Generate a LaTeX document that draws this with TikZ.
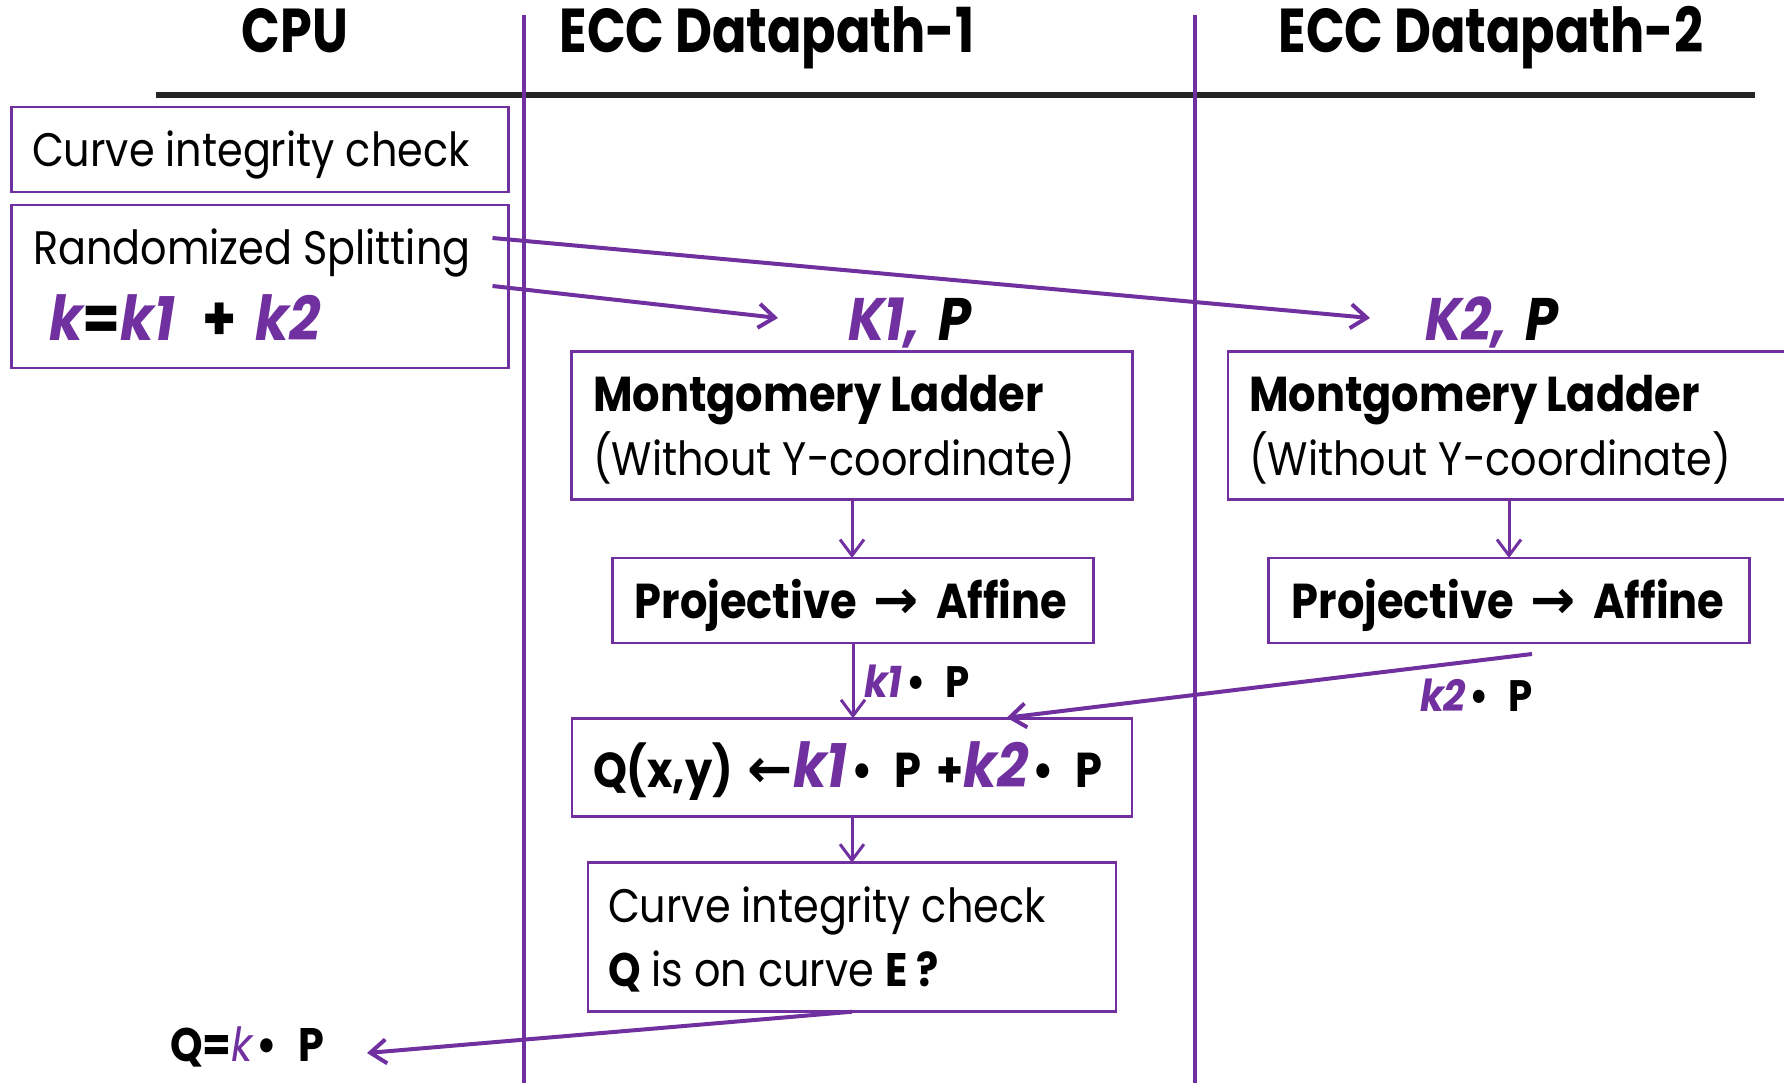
\documentclass[tikz,border=0pt]{standalone}
\usepackage{fontspec}
\setmainfont{Poppins}[FakeStretch=0.88]
\newfontfamily\titlefont{Poppins}[FakeStretch=0.82]
\newfontfamily\symfont{DejaVu Sans}
\usetikzlibrary{arrows.meta}
\definecolor{vio}{HTML}{7030A0}
\definecolor{rulegray}{HTML}{262626}
\newcommand\fs[1]{\fontsize{#1}{#1}\selectfont}
\newcommand\kv[1]{{\color{vio}\bfseries\itshape #1}}
\newcommand\dotp{\hspace{0.08em}\textbullet\hspace{0.45em}P}
\begin{document}
\begin{tikzpicture}[x=1pt,y=-1pt,
  box/.style={draw=vio, line width=2.5pt, inner sep=0, outer sep=0, anchor=north west},
  flow/.style={draw=vio, line width=3pt, -{Straight Barb[length=16pt,width=24pt]}},
  longflow/.style={flow, line width=4pt},
  lane/.style={draw=vio, line width=3.5pt},
  lbl/.style={anchor=base west, inner sep=0, outer sep=0, text=black},
  body/.style={lbl, font=\fs{47}},
  heavy/.style={lbl, font=\fs{49}\bfseries},
  title/.style={anchor=base, inner sep=0, font=\titlefont\fs{62}\bfseries},
]
\useasboundingbox (0,0) rectangle (1784,1083);
\clip (0,0) rectangle (1784,1083);

% swim-lane headings and separators
\node[title] (hcpu) at (295,53) {CPU};
\node[title] (hdp1) at (767,53) {ECC Datapath-1};
\node[title] (hdp2) at (1491,53) {ECC Datapath-2};
\coordinate (ruleL) at (156,95);
\coordinate (ruleR) at (1755,95);
\draw[rulegray, line width=6pt] (ruleL) -- (ruleR);
\coordinate (lane1top) at (524,15);
\coordinate (lane1bot) at (524,1083);
\coordinate (lane2top) at (1195,15);
\coordinate (lane2bot) at (1195,1083);
\draw[lane] (lane1top) -- (lane1bot);
\draw[lane] (lane2top) -- (lane2bot);

% CPU column
\node[box, minimum width=497pt, minimum height=85pt] (cpuchk) at (11.5,107) {};
\node[body] (tcpuchk) at (32,167) {Curve integrity check};
\node[box, minimum width=497pt, minimum height=163pt] (split) at (11.5,205) {};
\node[body] (tsplit) at (33,265) {Randomized Splitting};
\node[lbl, font=\fs{62}\bfseries] (tkk) at (49,340) {\kv{k}=\kv{k1}\hspace{0.45em}+\hspace{0.3em}\kv{k2}};

% datapath 1
\node[lbl, font=\fs{60}\bfseries\itshape] (in1) at (848,340) {\textcolor{vio}{K1,}\hspace{0.1em} P};
\node[box, minimum width=561pt, minimum height=148pt] (ml1) at (571.5,351.7) {};
\node[heavy] (tml1a) at (593,411.7) {Montgomery Ladder};
\node[body] (tml1b) at (593,475) {(Without Y-coordinate)};
\node[box, minimum width=481pt, minimum height=85pt] (pa1) at (612.5,558) {};
\node[heavy, anchor=base] (tpa1) at (851,618) {Projective\hspace{0.35em}{\symfont\bfseries\fs{54}→}\hspace{0.35em}Affine};
\node[lbl, font=\fs{44}\bfseries] (lk1) at (864,697) {\kv{k1}\dotp};
\node[box, minimum width=560pt, minimum height=98pt] (qsum) at (572,718.3) {};
\node[heavy] (tqsum) at (593,787) {Q(x,y)\hspace{0.3em}{\symfont\bfseries\fs{54}←}\kv{\fs{62}k1}\dotp\hspace{0.3em}+\kv{\fs{62}k2}\dotp};
\node[box, minimum width=528pt, minimum height=149pt] (chk) at (588,862.7) {};
\node[body] (tchka) at (608,922.7) {Curve integrity check};
\node[body] (tchkb) at (608,986.7) {\textbf{Q} is on curve \textbf{E ?}};

% datapath 2
\node[lbl, font=\fs{60}\bfseries\itshape] (in2) at (1425,340) {\textcolor{vio}{K2,}\hspace{0.1em} P};
\node[box, minimum width=600pt, minimum height=148pt] (ml2) at (1228,351.7) {};
\node[heavy] (tml2a) at (1249,411.7) {Montgomery Ladder};
\node[body] (tml2b) at (1249,475) {(Without Y-coordinate)};
\node[box, minimum width=481pt, minimum height=85pt] (pa2) at (1268.5,558) {};
\node[heavy, anchor=base] (tpa2) at (1508,618) {Projective\hspace{0.35em}{\symfont\bfseries\fs{54}→}\hspace{0.35em}Affine};
\node[lbl, font=\fs{44}\bfseries] (lk2) at (1420,711.7) {\kv{k2}\dotp};

% result
\node[lbl, font=\fs{47}\bfseries] (res) at (170,1061.7) {Q={\color{vio}\mdseries\itshape k}\dotp};

% connectors
\coordinate (s1) at (492.5,286);
\coordinate (s2) at (492.5,238);
\coordinate (t1) at (778,318);
\coordinate (t2) at (1370,318);
\draw[longflow] (s1) -- (t1);
\draw[longflow] (s2) -- (t2);
\draw[flow] (ml1.south) -- (ml1.south |- pa1.north);
\draw[flow] (pa2.north |- ml2.south) -- (pa2.north);
\draw[flow] (pa1.south) -- (pa1.south |- qsum.north);
\coordinate (k2from) at (1532,654);
\coordinate (k2to) at (1006.7,717.7);
\draw[longflow] (k2from) -- (k2to);
\draw[flow] (qsum.south) -- (qsum.south |- chk.north);
\coordinate (qout) at (367,1053);
\draw[longflow] (chk.south) -- (qout);
\end{tikzpicture}
\end{document}
